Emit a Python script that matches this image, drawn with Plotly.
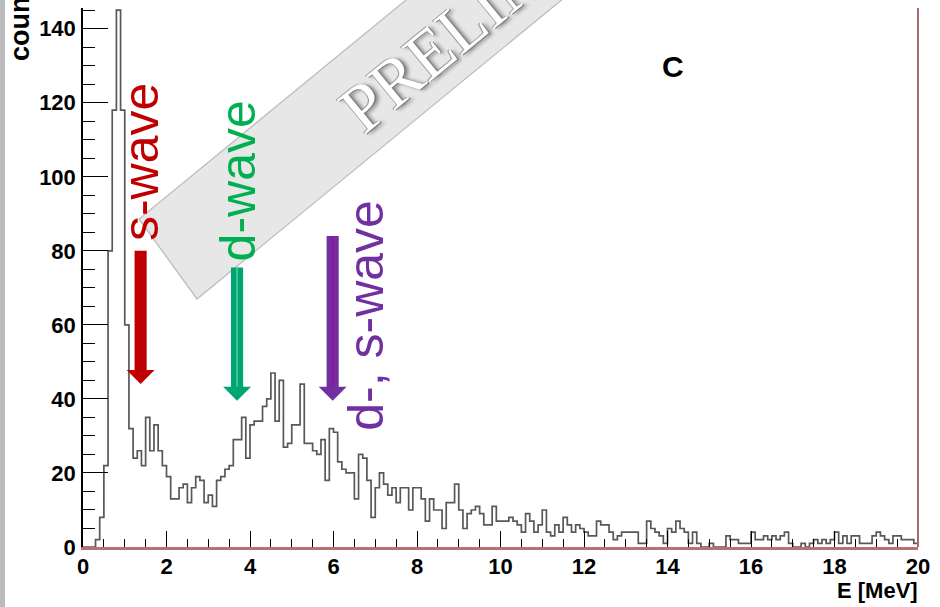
import plotly.graph_objects as go

# ---------------- data ----------------
bin_width = 0.1  # MeV
counts = [
    0, 0, 0, 2, 8, 22, 80, 118, 145, 118,
    60, 32, 24, 26, 22, 35, 26, 33, 26, 22,
    19, 13, 13, 16, 17, 12, 16, 19, 18, 12,
    14, 11, 18, 19, 21, 22, 29, 29, 35, 24,
    33, 34, 34, 38, 40, 47, 34, 45, 27, 28,
    33, 33, 44, 28, 28, 26, 25, 29, 18, 32,
    31, 23, 21, 20, 20, 13, 25, 24, 18, 8,
    16, 20, 17, 14, 16, 12, 16, 16, 10, 16,
    16, 13, 7, 13, 10, 10, 5, 12, 12, 17,
    10, 5, 9, 10, 11, 9, 6, 6, 11, 7,
    7, 7, 8, 7, 6, 4, 9, 7, 4, 6,
    10, 4, 3, 6, 4, 8, 6, 4, 6, 5,
    4, 3, 3, 7, 6, 6, 4, 2, 3, 4,
    4, 4, 4, 1, 1, 7, 5, 4, 3, 1,
    5, 4, 7, 5, 4, 1, 4, 1, 0, 0,
    1, 0, 0, 0, 3, 2, 2, 1, 1, 1,
    4, 2, 2, 3, 2, 3, 2, 3, 4, 1,
    0, 0, 1, 0, 1, 2, 1, 2, 1, 2,
    4, 1, 3, 1, 3, 3, 1, 1, 1, 3,
    4, 3, 2, 1, 3, 3, 2, 2, 2, 1,
]
edges = [round(i * bin_width, 1) for i in range(len(counts) + 1)]

x_ticks = [0, 2, 4, 6, 8, 10, 12, 14, 16, 18, 20]
y_ticks = [0, 20, 40, 60, 80, 100, 120, 140]

wave_labels = ["s-wave", "d-wave", "d-, s-wave"]
arrow_energy = [1.38, 3.69, 5.98]          # MeV
arrow_top = [80, 75.5, 84]                 # counts
arrow_tip = [44, 39.5, 39.5]               # counts
label_pos = [(1.39, 104), (3.71, 99), (6.78, 62.5)]
arrow_colors = ["#c00000", "#00a572", "#7030a0"]
stripe_colors = [None, "#3cc99a", "#9a10a0"]
label_colors = ["#c00000", "#00b050", "#7030a0"]

# ---------------- layout geometry ----------------
W, H = 940, 607
L, R, T, B = 83, 22, 8, 60
PW, PH = W - L - R, H - T - B


def px(xp):
    return (xp - L) / PW


def py(yp):
    return (H - B - yp) / PH


fig = go.Figure()
fig.add_trace(go.Scatter(
    x=edges, y=counts + [counts[-1]], mode="lines",
    line=dict(shape="hv", color="#585858", width=1.7),
    showlegend=False, hoverinfo="skip"))

shapes = []
# grey strip at the far left
shapes.append(dict(type="rect", xref="paper", yref="paper",
                   x0=px(0), x1=px(5), y0=py(H), y1=py(0),
                   fillcolor="#bcbcbc", line=dict(width=0), layer="below"))
# PRELIMINARY banner
A = (139, 219)
Bc = (197, 299)
u = (0.773, -0.634)
ext = 700
C = (Bc[0] + ext * u[0], Bc[1] + ext * u[1])
D = (A[0] + ext * u[0], A[1] + ext * u[1])
path = "M {} {} L {} {} L {} {} L {} {} Z".format(
    px(A[0]), py(A[1]), px(Bc[0]), py(Bc[1]), px(C[0]), py(C[1]), px(D[0]), py(D[1]))
shapes.append(dict(type="path", xref="paper", yref="paper", path=path,
                   fillcolor="#e7e7e7", line=dict(color="#bdbdbd", width=1.3), layer="below"))
# right border
shapes.append(dict(type="line", xref="paper", yref="paper", x0=1, x1=1, y0=0, y1=1,
                   line=dict(color="#a86a6a", width=2)))

# arrows
shw, hhw, hh = 0.145, 0.335, 3.8
for xe, yt, ytip, col, sc in zip(arrow_energy, arrow_top, arrow_tip, arrow_colors, stripe_colors):
    p = ("M {a} {t} L {b} {t} L {b} {h} L {c} {h} L {x} {tip} L {d} {h} L {a} {h} Z"
         .format(a=xe - shw, b=xe + shw, c=xe + hhw, d=xe - hhw, x=xe,
                 t=yt, h=ytip + hh, tip=ytip))
    shapes.append(dict(type="path", xref="x", yref="y", path=p,
                       fillcolor=col, line=dict(width=0), layer="above"))
    if sc:
        shapes.append(dict(type="line", xref="x", yref="y", x0=xe, x1=xe,
                           y0=yt, y1=ytip + hh, line=dict(color=sc, width=2), layer="above"))

annotations = []
for txt, (lx, ly), col in zip(wave_labels, label_pos, label_colors):
    annotations.append(dict(x=lx, y=ly, xref="x", yref="y", text=txt, showarrow=False,
                            textangle=-90, xanchor="center", yanchor="middle",
                            font=dict(family="Liberation Sans", size=50, color=col)))
annotations.append(dict(x=px(527), y=py(-28), xref="paper", yref="paper",
                        text="PRELIMINARY", showarrow=False, textangle=-39.4,
                        xanchor="center", yanchor="middle",
                        font=dict(family="Liberation Serif", size=68, color="#ffffff",
                                  shadow="1px 1px 0px #7a7a7a, 3px 3px 4px #8a8a8a, -1px -1px 0px #a0a0a0")))
annotations.append(dict(x=px(672.5), y=py(66), xref="paper", yref="paper", text="C",
                        showarrow=False, xanchor="center", yanchor="middle",
                        font=dict(family="Liberation Sans", size=30, color="black", weight="bold")))
annotations.append(dict(x=px(920), y=py(590), xref="paper", yref="paper", text="E [MeV]",
                        showarrow=False, xanchor="right", yanchor="middle",
                        font=dict(family="Liberation Sans", size=22, color="black", weight="bold")))
annotations.append(dict(x=px(20), y=py(17), xref="paper", yref="paper", text="counts",
                        showarrow=False, textangle=-90, xanchor="center", yanchor="middle",
                        font=dict(family="Liberation Sans", size=27, color="black", weight="bold")))

tickfont = dict(family="Liberation Sans", size=22, color="black", weight="bold")
fig.update_layout(
    width=W, height=H, margin=dict(l=L, r=R, t=T, b=B, pad=0),
    paper_bgcolor="white", plot_bgcolor="white",
    shapes=shapes, annotations=annotations, showlegend=False,
    xaxis=dict(range=[0, 20], tickvals=x_ticks, ticktext=[str(v) for v in x_ticks],
               ticks="inside", ticklen=16, tickwidth=1.3, tickcolor="black",
               minor=dict(dtick=0.5, ticks="inside", ticklen=8, tickwidth=1.2, tickcolor="black"),
               showline=True, linecolor="#b87070", linewidth=3,
               showgrid=False, zeroline=False, tickfont=tickfont, ticklabelstandoff=-2),
    yaxis=dict(range=[0, 145.6], tickvals=y_ticks, ticktext=[str(v) for v in y_ticks],
               ticks="inside", ticklen=25, tickwidth=1.3, tickcolor="black",
               minor=dict(dtick=5, ticks="inside", ticklen=12, tickwidth=1.2, tickcolor="black"),
               showline=True, linecolor="black", linewidth=1.5,
               showgrid=False, zeroline=False, tickfont=tickfont, ticklabelstandoff=1),
)

fig.write_html("out.html")
